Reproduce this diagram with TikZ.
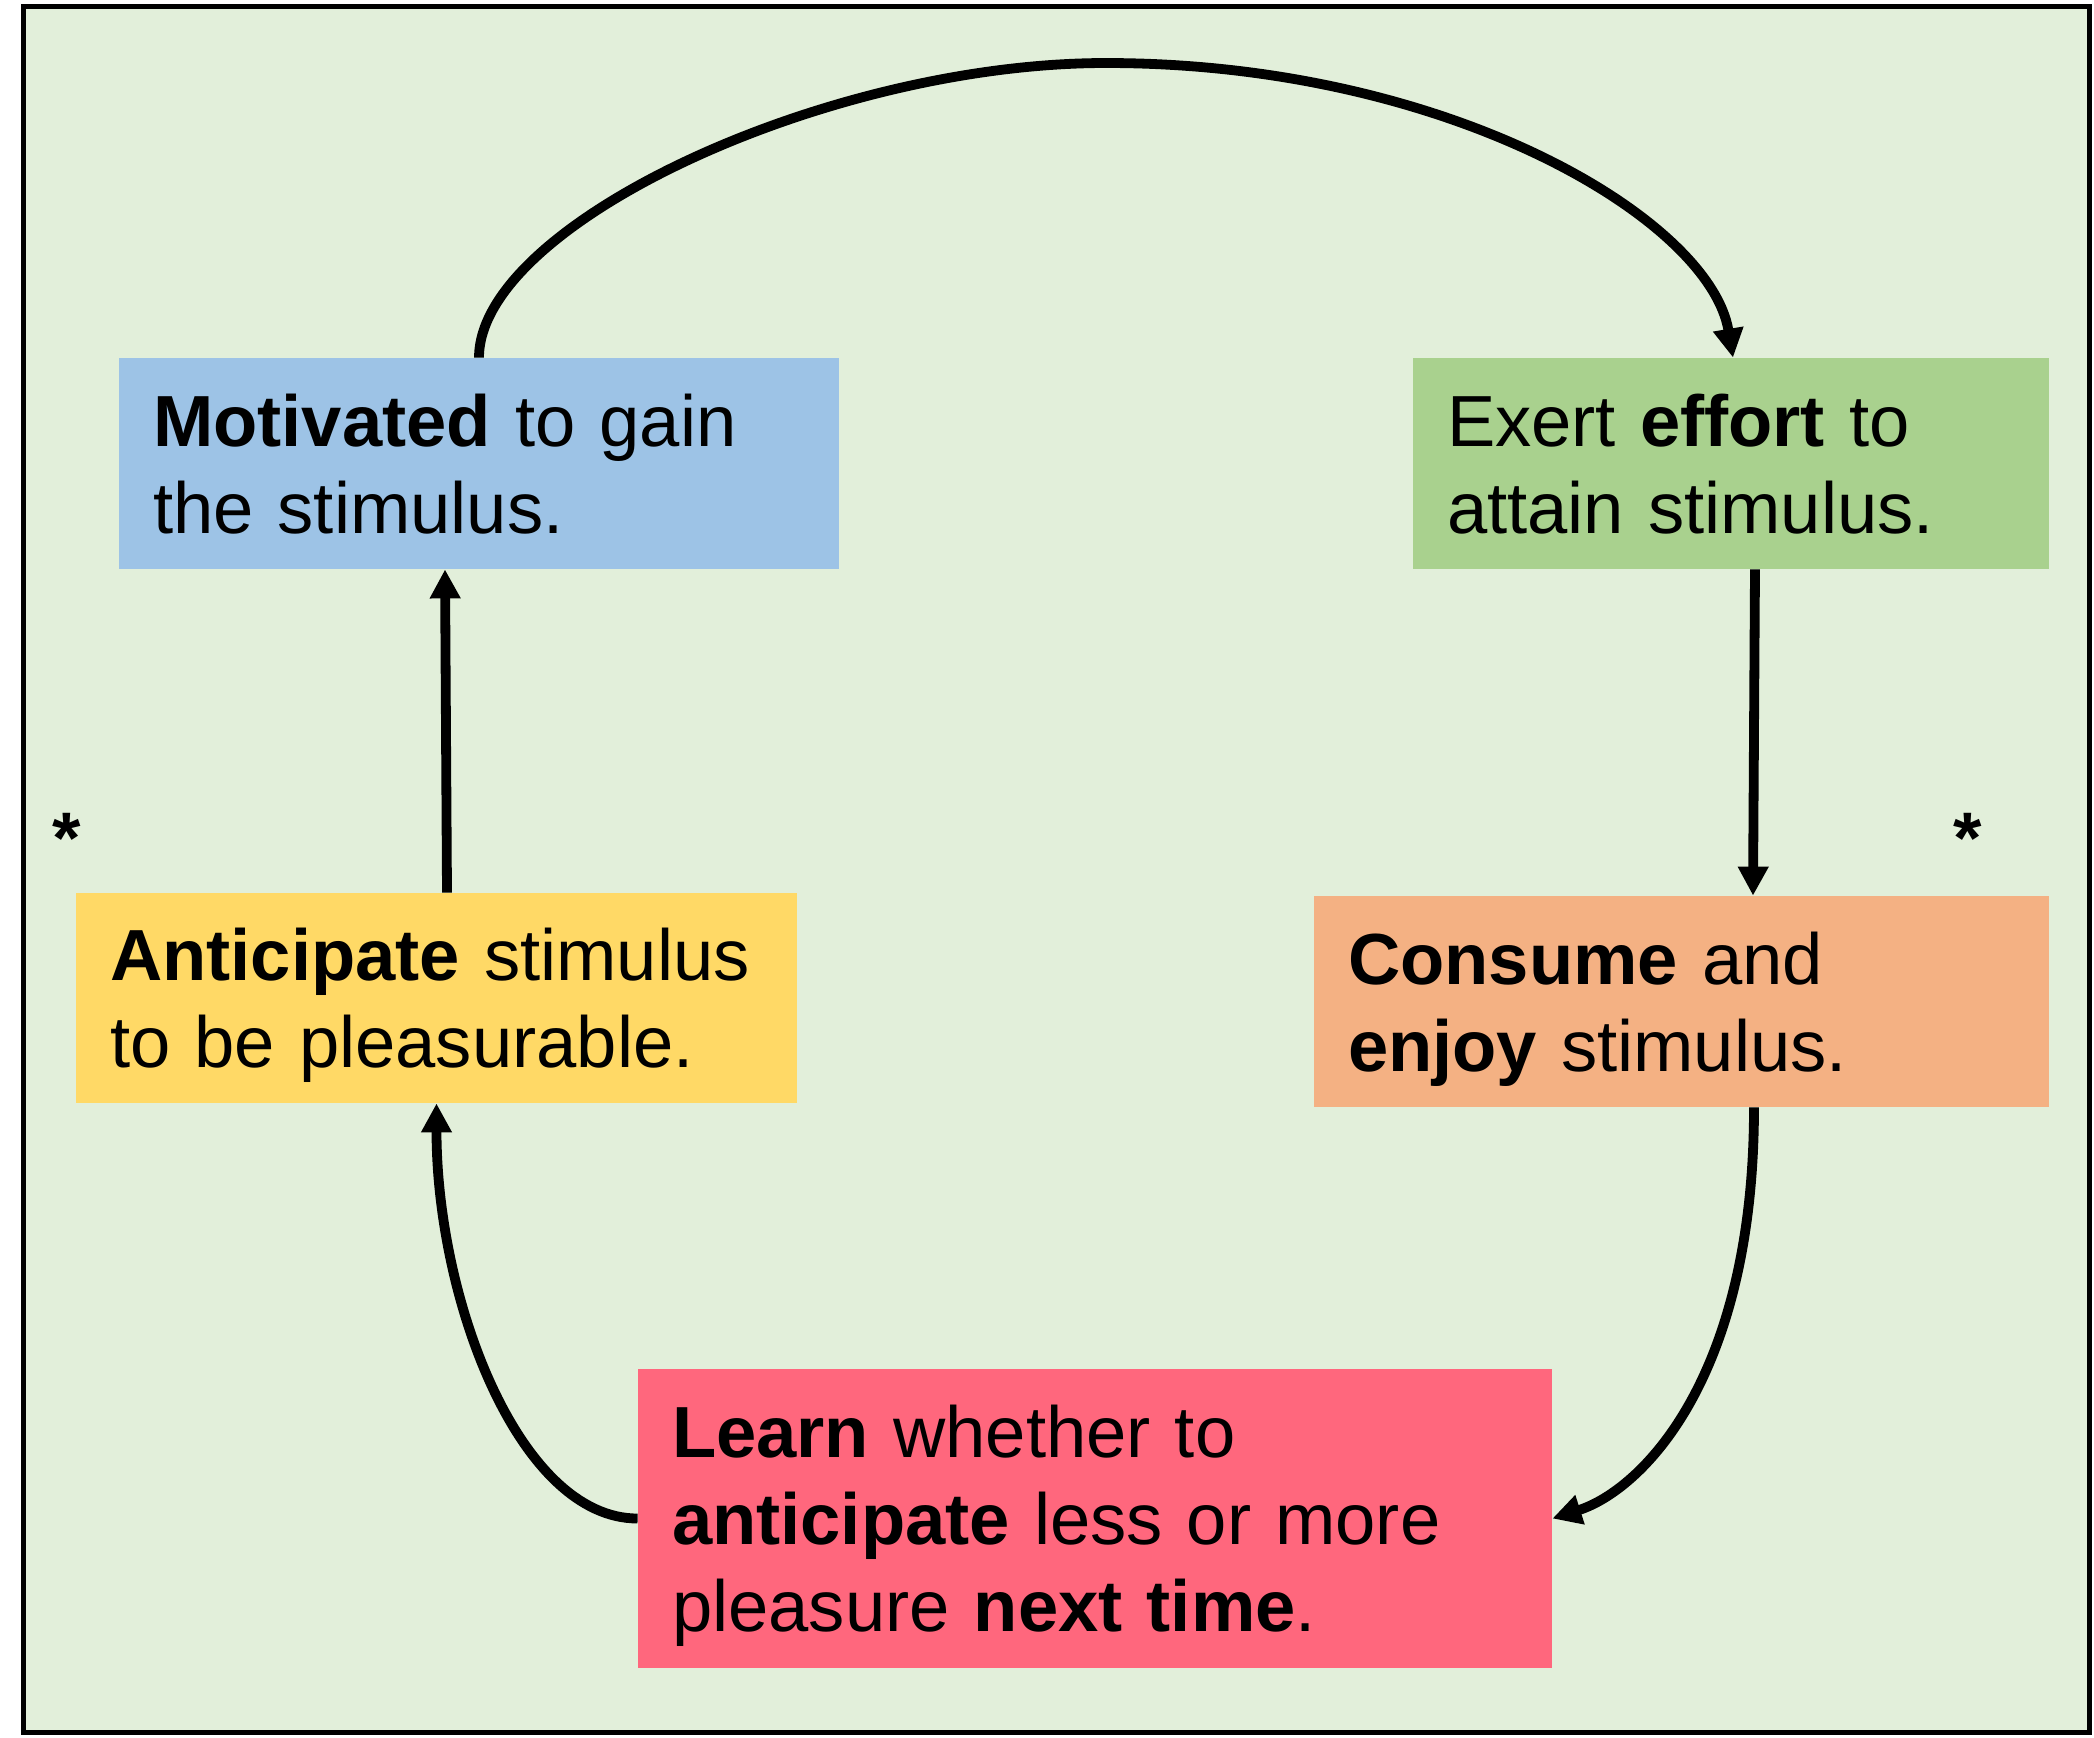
\documentclass[tikz,border=0pt]{standalone}
\usepackage{fontspec}
\setmainfont{Liberation Sans}
\usetikzlibrary{arrows.meta}
\definecolor{bgc}{HTML}{E2EFDA}
\definecolor{bluec}{HTML}{9DC3E6}
\definecolor{greenc}{HTML}{A9D18E}
\definecolor{yellowc}{HTML}{FFD966}
\definecolor{orangec}{HTML}{F4B183}
\definecolor{redc}{HTML}{FF677D}
\begin{document}
\begin{tikzpicture}[x=0.5pt,y=-0.5pt,
  box/.style={rectangle, inner xsep=17pt, inner ysep=0pt, align=left,
    text height=26pt, font=\fontsize{36.2pt}{43.5pt}\selectfont},
  twoline/.style={text depth=43.5pt},
  threeline/.style={text depth=87pt},
  conn/.style={line width=4.9pt, -{Triangle[length=14.5pt,width=14.5pt]}},
  star/.style={anchor=base, inner sep=0pt, font=\fontsize{36.5pt}{43.5pt}\selectfont\bfseries}]
\fill[white] (0,0) rectangle (2094,1737);
\useasboundingbox (0,0) rectangle (2094,1737);
\draw[line width=2.5pt, fill=bgc] (23.5,6.5) rectangle (2089,1732);

\node[box, twoline, fill=bluec, text width=326pt, minimum height=105.5pt] (blue) at (479,463.5)
  {\mbox{\textbf{Motivated} to gain}\\\mbox{the stimulus.}};
\node[box, twoline, fill=greenc, text width=284pt, minimum height=105.5pt] (green) at (1731,463.5)
  {\mbox{Exert \textbf{effort} to}\\\mbox{attain stimulus.}};
\node[box, twoline, fill=yellowc, text width=326.5pt, minimum height=105pt] (yellow) at (436.5,998)
  {\mbox{\textbf{Anticipate} stimulus}\\\mbox{to be pleasurable.}};
\node[box, twoline, fill=orangec, text width=333.5pt, minimum height=105.5pt] (orange) at (1681.5,1001.5)
  {\mbox{\textbf{Consume} and}\\\mbox{\textbf{enjoy} stimulus.}};
\node[box, threeline, fill=redc, text width=423pt, minimum height=149.5pt] (red) at (1095,1518.5)
  {\mbox{\textbf{Learn} whether to}\\\mbox{\textbf{anticipate} less or more}\\\mbox{pleasure \textbf{next time}.}};

\node[star] (starL) at (67,863) {*};
\node[star] (starR) at (1968,863) {*};

\draw[conn] (blue.north) .. controls (479,225) and (825,63) .. (1106,63)
  .. controls (1450,63) and (1710,220) .. ([xshift=1pt]green.north);
\draw[conn] ([xshift=12pt]green.south) -- ([xshift=35.75pt]orange.north);
\draw[conn] ([xshift=36.25pt]orange.south) .. controls +(0,273) and +(88,-28) .. (red.east);
\draw[conn] (red.west) .. controls +(-118,0) and +(0,197) .. (yellow.south);
\draw[conn] ([xshift=5.25pt]yellow.north) -- ([xshift=-17pt]blue.south);
\end{tikzpicture}
\end{document}
